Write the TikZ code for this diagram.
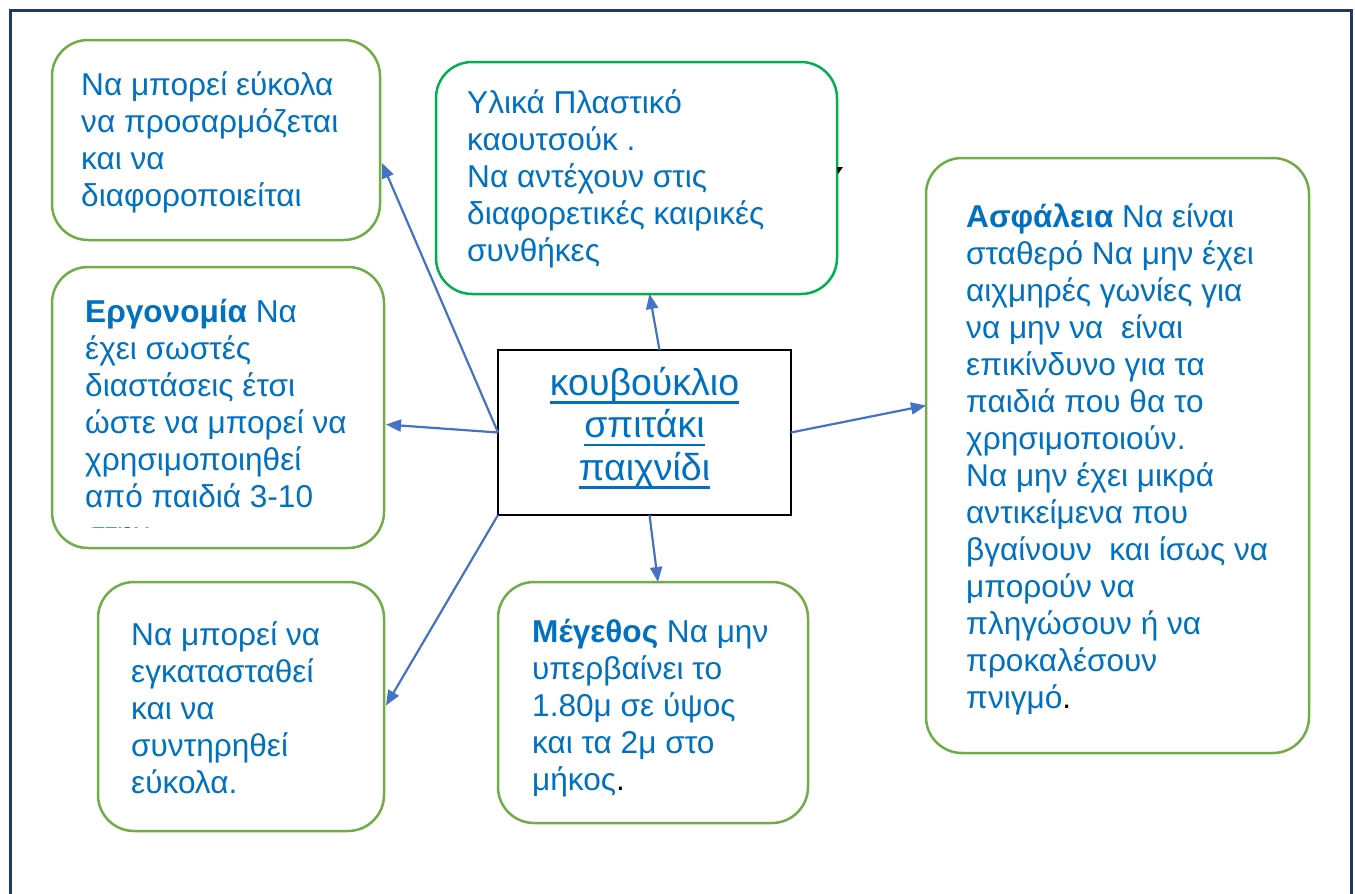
\documentclass[tikz,border=0pt]{standalone}
\usepackage{fontspec}
\setmainfont{Liberation Sans}
\usetikzlibrary{arrows.meta}
\definecolor{txt}{HTML}{0070C0}
\definecolor{grn}{HTML}{70AD47}
\definecolor{grntwo}{HTML}{00B050}
\definecolor{arrc}{HTML}{4472C4}
\definecolor{framec}{HTML}{203864}
\newcommand\myul[1]{\setbox0\hbox{#1}\rlap{\rule[-8.3pt]{\wd0}{2.3pt}}\box0}
\tikzset{
 box/.style={draw=grn, line width=2.5pt, rounded corners=36pt, anchor=north west, inner sep=0pt, outer sep=0pt},
 txtn/.style={anchor=north west, inner sep=0pt, align=left, text=txt, font=\fontsize{31.6}{37}\selectfont},
 link/.style={draw=arrc, line width=2.2pt, -{Triangle[length=15pt,width=12pt]}},
}
\begin{document}
\begin{tikzpicture}[x=1pt,y=-1pt]
\useasboundingbox (0,0) rectangle (1355,894);
\clip (0,0) rectangle (1355,894);
% outer frame
\draw[framec, line width=3pt] (10,910) -- (10,10) -- (1351,10) -- (1351,910);
% boxes
\node[box, minimum width=328pt, minimum height=200pt] (b1) at (52,40) {};
\node[box, draw=grntwo, minimum width=401pt, minimum height=232pt] (b2) at (436,62) {};
\node[box, minimum width=332pt, minimum height=281pt] (b3) at (52,267) {};
\node[box, minimum width=286pt, minimum height=249pt] (b4) at (98,582) {};
\node[box, minimum width=310pt, minimum height=241pt] (b5) at (498,582) {};
\node[box, minimum width=383pt, minimum height=595pt] (b6) at (926,158) {};
\node[draw=black, line width=2pt, anchor=north west, inner sep=0pt, outer sep=0pt, minimum width=293pt, minimum height=165pt] (c) at (498,350) {};
% texts
\node[txtn] (t1) at (81,69) {\strut Να μπορεί εύκολα\\να προσαρμόζεται\\και να\\διαφοροποιείται};
\node[txtn] (t2) at (467,87) {\strut Υλικά Πλαστικό\\καουτσούκ .\\Να αντέχουν στις\\διαφορετικές καιρικές\\συνθήκες};
\begin{scope}
\clip (52,267) rectangle (400,527);
\node[txtn] (t3) at (85,296) {\strut\textbf{Εργονομία} Να\\έχει σωστές\\διαστάσεις έτσι\\ώστε να μπορεί να\\χρησιμοποιηθεί\\από παιδιά 3-10\\στην};
\end{scope}
\node[txtn] (t4) at (131,619) {\strut Να μπορεί να\\εγκατασταθεί\\και να\\συντηρηθεί\\εύκολα.};
\node[txtn] (t5) at (532,616) {\strut\textbf{Μέγεθος} Να μην\\υπερβαίνει το\\1.80μ σε ύψος\\και τα 2μ στο\\μήκος{\color{black}.}};
\node[txtn] (t6) at (966,201) {\strut\textbf{Ασφάλεια} Να είναι\\σταθερό Να μην έχει\\αιχμηρές γωνίες για\\να μην να \ είναι\\επικίνδυνο για τα\\παιδιά που θα το\\χρησιμοποιούν.\\Να μην έχει μικρά\\αντικείμενα που\\βγαίνουν \ και ίσως να\\μπορούν να\\πληγώσουν ή να\\προκαλέσουν\\πνιγμό{\color{black}.}};
\node[anchor=north, inner sep=0pt, align=center, text=txt, font=\fontsize{37.5}{42.5}\selectfont] (ct) at (644.5,365.25) {\strut\myul{κουβούκλιο}\\\myul{σπιτάκι}\\\myul{παιχνίδι}};
% small stray arrow tip
\fill[black] (837,167) -- (843,167) -- (838,174) -- cycle;
% connectors
\draw[link] (c.west) -- ([shift={(2pt,-23pt)}]b1.east);
\draw[link] (c.west) -- ([shift={(2pt,-17pt)}]b3.east);
\draw[link] (c.south west) -- ([shift={(2pt,1pt)}]b4.east);
\draw[link] ([xshift=15pt]c.north) -- ([xshift=13pt]b2.south);
\draw[link] ([xshift=5pt]c.south) -- ([xshift=5pt]b5.north);
\draw[link] (c.east) -- ([yshift=50pt]b6.west);
\end{tikzpicture}
\end{document}
